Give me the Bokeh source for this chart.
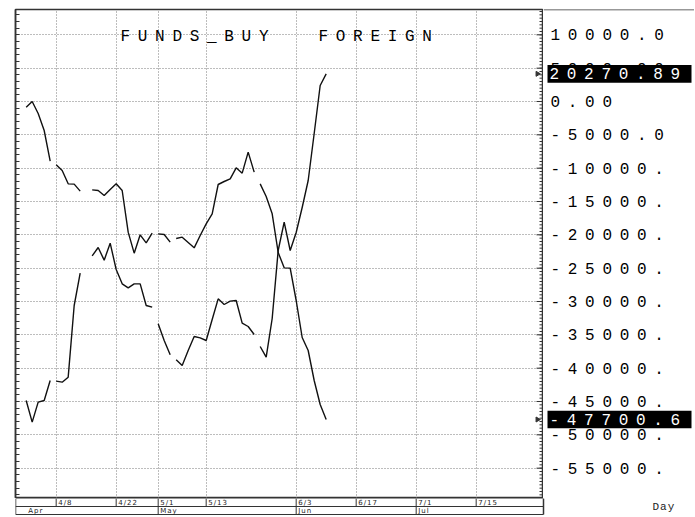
import numpy as np
from bokeh.plotting import figure
from bokeh.models import Range1d, LinearAxis, FixedTicker, Grid
from bokeh.layouts import column, row
from bokeh.embed import file_html
from bokeh.resources import INLINE
from bokeh.core.properties import value

# ---------------- data ----------------
# trading days: index 0 = 4/1, 5 = 4/8, ... 50 = 6/10
day_index = list(range(51))

funds_buy = [-860, 0, -1800, -4350, -8950,
             -9500, -10350, -12350, -12400, -13450,
             None, -13250, -13350, -14100, -13200, -12350, -13350,
             -19600, -22750, -20000, -21200, -19750,
             -19850, -19950, -21100,
             -20550, -20350, -21150, -21950, -20100, -18350, -16850, -12450,
             -12000, -11600, -9950, -10750, -7600, -10600,
             -12350, -14250, -16850, -22650, -24950, -25000, -29850, -35400,
             -37350, -41850, -45450, -47700.6]

# FOREIGN, read against the right-hand scale of the picture
foreign = [-44850, -48100, -45100, -44850, -41850,
           -41950, -42100, -41350, -30600, -25750,
           None, -23150, -21900, -23800, -21250, -25200, -27350,
           -27950, -27350, -27350, -30600, -30850,
           -33350, -35850, -38000,
           -38750, -39600, -37350, -35250, -35450, -35850, -32700, -29600,
           -30450, -29950, -29850, -33250, -33750, -34950,
           -36750, -38350, -32550, -22350, -18100, -22350, -19650, -15900,
           -11850, -4800, 2400, 4150]

funds_last_label = "-47700.6"
foreign_last_label = "20270.89"

# no line drawn between day i and day i+1
seg_breaks = [4, 21, 24, 38]

y_ticks = [10000, 5000, 0, -5000, -10000, -15000, -20000, -25000, -30000,
           -35000, -40000, -45000, -50000, -55000]
y_labels = ["10000.0", "5000.00", "0.00", "-5000.0", "-10000.", "-15000.",
            "-20000.", "-25000.", "-30000.", "-35000.", "-40000.", "-45000.",
            "-50000.", "-55000."]

day_ticks = [5, 15, 22, 30, 45, 55, 65, 75]
day_labels = ["4/8", "4/22", "5/1", "5/13", "6/3", "6/17", "7/1", "7/15"]
month_ticks = [22, 45, 65]
month_pos = [0, 22, 45, 65]
month_labels = ["Apr", "May", "Jun", "Jul"]

title_parts = ["FUNDS_BUY", "FOREIGN"]
axis_unit = "Day"


def segments(vals):
    xs, ys, cx, cy = [], [], [], []
    for i, v in zip(day_index, vals):
        if v is None:
            if len(cx) > 1:
                xs.append(cx); ys.append(cy)
            cx, cy = [], []
            continue
        cx.append(i); cy.append(v)
        if i in seg_breaks:
            if len(cx) > 1:
                xs.append(cx); ys.append(cy)
            cx, cy = [], []
    if len(cx) > 1:
        xs.append(cx); ys.append(cy)
    return xs, ys


MONO = "Liberation Mono"
INK = "#111111"
DARK = "#333333"
GRID = "#7a7a7a"
W_MAIN = 543
W_RIGHT = 151
H_MAIN = 498
H_STRIP = 18
LEFT = 15
TOP = 9

PX_PER_DAY = 6.0
x_rng = Range1d(-1.78, -1.78 + (W_MAIN - LEFT) / PX_PER_DAY)
y_rng = Range1d(-59550, 13800)
PX_PER_UNIT = (H_MAIN - TOP) / (y_rng.end - y_rng.start)


def x_at(px):
    return x_rng.start + (px - LEFT) / PX_PER_DAY


def y_at(py):
    return y_rng.end - (py - TOP) / PX_PER_UNIT


# ---------------- main plot area ----------------
p = figure(width=W_MAIN, height=H_MAIN, x_range=x_rng, y_range=y_rng,
           output_backend="svg", toolbar_location=None,
           min_border_left=LEFT, min_border_right=0, min_border_top=TOP, min_border_bottom=0,
           x_axis_type=None, y_axis_type=None,
           outline_line_color=DARK, outline_line_width=1.5,
           background_fill_color="white", border_fill_color="white",
           styles={"letter-spacing": "7.7px"})

p.add_layout(Grid(dimension=0, ticker=FixedTicker(ticks=day_ticks),
                  grid_line_color=GRID, grid_line_dash="1 2", grid_line_width=1))
p.add_layout(Grid(dimension=1, ticker=FixedTicker(ticks=y_ticks),
                  grid_line_color=GRID, grid_line_dash="1 2", grid_line_width=1))

minor_left = [float(v) for v in np.arange(-59000, 14000, 1000)]
minor_right = [float(v) for v in np.arange(-59500, 14000, 500)]

left_ax = LinearAxis(ticker=FixedTicker(ticks=[], minor_ticks=minor_left),
                     major_label_standoff=0, major_tick_in=0, major_tick_out=0,
                     minor_tick_in=4, minor_tick_out=0,
                     axis_line_color=DARK, axis_line_width=1.5,
                     minor_tick_line_color=DARK)
p.add_layout(left_ax, "left")

# inward ticks of the right-hand scale
xe = x_rng.end
p.segment(x0=[xe - 4 / PX_PER_DAY] * len(minor_right), y0=minor_right,
          x1=[xe] * len(minor_right), y1=minor_right, line_color=DARK, line_width=1)
p.segment(x0=[xe - 7 / PX_PER_DAY] * len(y_ticks), y0=y_ticks,
          x1=[xe] * len(y_ticks), y1=y_ticks, line_color=DARK, line_width=1)

fx, fy = segments(funds_buy)
gx, gy = segments(foreign)
p.multi_line(xs=fx, ys=fy, line_color=INK, line_width=1.4)
p.multi_line(xs=gx, ys=gy, line_color=INK, line_width=1.4)

p.text(x=[x_at(120), x_at(318)], y=[y_at(36)] * 2, text=title_parts,
       text_font=value(MONO), text_font_size="16px", text_color="#000000",
       text_baseline="middle")

last_y = [funds_buy[-1], foreign[-1]]
p.scatter(x=[xe - 1.0] * 2, y=last_y, marker="triangle", size=5,
          angle=-np.pi / 2, color=DARK)

# ---------------- right-hand scale ----------------
pr = figure(width=W_RIGHT, height=H_MAIN, x_range=Range1d(0, W_RIGHT), y_range=y_rng,
            output_backend="svg", toolbar_location=None,
            min_border_left=0, min_border_right=0, min_border_top=TOP, min_border_bottom=0,
            x_axis_type=None, y_axis_type=None, outline_line_color=None,
            background_fill_color="white", border_fill_color="white",
            styles={"letter-spacing": "7.7px"})
pr.segment(x0=[0], y0=[y_rng.end], x1=[W_RIGHT], y1=[y_rng.end], line_color=DARK,
           line_width=1.5)
pr.text(x=[7] * len(y_ticks), y=y_ticks, text=y_labels, text_baseline="middle",
        text_font=value(MONO), text_font_size="16px", text_color="#000000")
pr.quad(left=[4, 4], right=[148, 148], top=[v + 1320 for v in last_y],
        bottom=[v - 1320 for v in last_y], fill_color="black", line_color=None)
pr.text(x=[6, 6], y=last_y, text=[funds_last_label, foreign_last_label],
        text_baseline="middle", text_font=value(MONO), text_font_size="16px",
        text_color="white")

# ---------------- date strip (full width) ----------------
W_ALL = W_MAIN + W_RIGHT
x_rng2 = Range1d(x_rng.start, x_rng.start + (W_ALL - LEFT) / PX_PER_DAY)
p2 = figure(width=W_ALL, height=H_STRIP, x_range=x_rng2, y_range=Range1d(-0.25, 2.0),
            output_backend="svg", toolbar_location=None,
            min_border_left=LEFT, min_border_right=0, min_border_top=0, min_border_bottom=0,
            x_axis_type=None, y_axis_type=None, outline_line_color=None,
            background_fill_color="white", border_fill_color="white",
            styles={"letter-spacing": "1px"})
x0, x1 = x_rng.start, x_rng.end
p2.segment(x0=[x0, x0, x0], y0=[0, 1, 2], x1=[x1, x1, x1], y1=[0, 1, 2],
           line_color=DARK, line_width=1.2)
p2.segment(x0=[x0, x1], y0=[0, 0], x1=[x0, x1], y1=[2, 2], line_color=DARK, line_width=1.5)
p2.segment(x0=day_ticks, y0=1, x1=day_ticks, y1=2, line_color=DARK, line_width=1)
p2.segment(x0=month_ticks, y0=0, x1=month_ticks, y1=1, line_color=DARK, line_width=1)
p2.text(x=day_ticks, y=1.5, text=day_labels, x_offset=2, text_baseline="middle",
        text_font=value("DejaVu Sans"), text_font_size="7px", text_color="#222222")
p2.text(x=month_pos, y=0.5, text=month_labels, x_offset=2, text_baseline="middle",
        text_font=value("DejaVu Sans"), text_font_size="7px", text_color="#222222")
p2.text(x=[x_rng.end + (652 - W_MAIN) / PX_PER_DAY], y=[1.0], text=[axis_unit],
        text_font=value(MONO), text_font_size="11px", text_color="#222222",
        text_baseline="middle")

layout = column(row(p, pr, spacing=0), p2, spacing=0)
open("out.html", "w").write(file_html(layout, INLINE))
